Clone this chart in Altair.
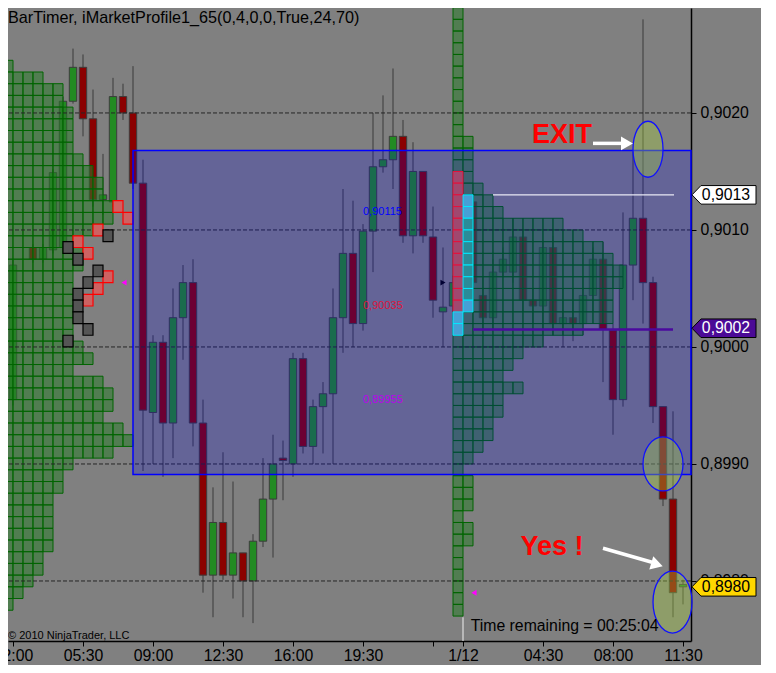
import altair as alt
import pandas as pd

TITLE = "BarTimer, iMarketProfile1_65(0,4,0,0,True,24,70)"
COPYRIGHT = "\u00a9 2010 NinjaTrader, LLC"
TIME_REMAINING = "Time remaining = 00:25:04"

# ---------------- axes ----------------
TICK_BARS = [1, 8, 15, 22, 29, 36, 43, 46, 54, 61, 68]
TICK_LABELS = ["02:00", "05:30", "09:00", "12:30", "16:00", "19:30", "", "1/12", "04:30", "08:00", "11:30"]
PRICE_TICKS = [0.8980, 0.8990, 0.9000, 0.9010, 0.9020]
X_DOMAIN = [0.5, 68.8]
Y_DOMAIN = [0.897487, 0.902897]

# ---------------- candles (30 min bars) ----------------
BAR = [1, 3, 4, 5, 6, 7, 8, 9, 10, 11, 12, 13, 14, 15, 16, 17, 18, 19, 20, 21, 22, 23, 24, 25, 26, 27,
       28, 29, 30, 31, 32, 33, 34, 35, 36, 37, 38, 39, 40, 41, 42, 43, 44, 45, 46, 47, 48, 49, 50, 51,
       52, 53, 54, 55, 56, 57, 58, 59, 60, 61, 62, 63, 64, 65, 66, 67, 68]
OPEN = [0.89955, 0.90085, 0.90075, 0.90083, 0.90085, 0.90210, 0.90239, 0.90195, 0.90126, 0.90124,
        0.90214, 0.90200, 0.90140, 0.89944, 0.90004, 0.89935, 0.90025, 0.90055, 0.89935, 0.89805,
        0.89850, 0.89805, 0.89824, 0.89800, 0.89834, 0.89870, 0.89905, 0.89900, 0.89990, 0.89915,
        0.89949, 0.89960, 0.90025, 0.90080, 0.90020, 0.90099, 0.90154, 0.90160, 0.90180, 0.90095,
        0.90150, 0.90094, 0.90030, 0.90035, 0.90055, 0.90124, 0.90044, 0.90025, 0.90064, 0.90064,
        0.90094, 0.90040, 0.90035, 0.90085, 0.90020, 0.90025, 0.90020, 0.90044, 0.90075, 0.90014,
        0.89955, 0.90070, 0.90110, 0.90055, 0.89949, 0.89870, 0.89795]
HIGH = [0.90075, 0.90088, 0.90088, 0.90152, 0.90214, 0.90255, 0.90250, 0.90220, 0.90165, 0.90230,
        0.90225, 0.90240, 0.90160, 0.90010, 0.90010, 0.90050, 0.90070, 0.90075, 0.89955, 0.89880,
        0.89910, 0.89885, 0.89824, 0.89840, 0.89905, 0.89925, 0.89920, 0.89995, 0.89995, 0.89955,
        0.89970, 0.90050, 0.90135, 0.90125, 0.90105, 0.90200, 0.90215, 0.90238, 0.90194, 0.90175,
        0.90150, 0.90120, 0.90085, 0.90061, 0.90085, 0.90130, 0.90060, 0.90075, 0.90085, 0.90110,
        0.90100, 0.90050, 0.90090, 0.90095, 0.90050, 0.90050, 0.90060, 0.90085, 0.90090, 0.90020,
        0.90115, 0.90167, 0.90280, 0.90060, 0.89949, 0.89945, 0.89801]
LOW = [0.89950, 0.90072, 0.90072, 0.90080, 0.90080, 0.90208, 0.90180, 0.90120, 0.90113, 0.90120,
       0.90194, 0.90135, 0.89894, 0.89900, 0.89889, 0.89905, 0.89989, 0.89915, 0.89790, 0.89769,
       0.89801, 0.89785, 0.89769, 0.89764, 0.89829, 0.89820, 0.89869, 0.89889, 0.89909, 0.89900,
       0.89909, 0.89900, 0.89995, 0.90000, 0.90014, 0.90064, 0.90149, 0.90135, 0.90089, 0.90080,
       0.90089, 0.90025, 0.90000, 0.90023, 0.90015, 0.90050, 0.90015, 0.90015, 0.90060, 0.90055,
       0.90030, 0.90020, 0.90000, 0.90010, 0.90000, 0.90005, 0.90010, 0.90030, 0.89970, 0.89925,
       0.89949, 0.90040, 0.90020, 0.89935, 0.89864, 0.89769, 0.89780]
CLOSE = [0.90070, 0.90075, 0.90085, 0.90149, 0.90210, 0.90239, 0.90195, 0.90126, 0.90130, 0.90214,
         0.90200, 0.90140, 0.89946, 0.90004, 0.89935, 0.90025, 0.90055, 0.89935, 0.89805, 0.89850,
         0.89805, 0.89824, 0.89800, 0.89834, 0.89870, 0.89900, 0.89903, 0.89990, 0.89915, 0.89949,
         0.89960, 0.90025, 0.90080, 0.90020, 0.90099, 0.90154, 0.90160, 0.90180, 0.90095, 0.90150,
         0.90095, 0.90040, 0.90034, 0.90055, 0.90030, 0.90055, 0.90025, 0.90064, 0.90075, 0.90094,
         0.90040, 0.90035, 0.90085, 0.90020, 0.90025, 0.90020, 0.90044, 0.90075, 0.90015, 0.89955,
         0.90070, 0.90110, 0.90055, 0.89949, 0.89870, 0.89790, 0.89797]

# ---------------- market profiles ----------------
LEFT_START = 0
LEFT_LEVELS = [0.9024, 0.9023, 0.9022, 0.9021, 0.9020, 0.9019, 0.9018, 0.9017, 0.9016, 0.9015,
               0.9014, 0.9013, 0.9012, 0.9011, 0.9010, 0.9009, 0.9008, 0.9007, 0.9006, 0.9005,
               0.9004, 0.9003, 0.9002, 0.9001, 0.9000, 0.8999, 0.8998, 0.8997, 0.8996, 0.8995,
               0.8994, 0.8993, 0.8992, 0.8991, 0.8990, 0.8989, 0.8988, 0.8987, 0.8986, 0.8985,
               0.8984, 0.8983, 0.8982, 0.8981, 0.8980, 0.8979, 0.8978]
LEFT_COUNTS = [1, 4, 6, 6, 7, 7, 7, 7, 8, 9, 10, 10, 11, 11, 9, 7, 8, 8, 7, 7, 7, 7, 7, 7, 8, 9, 7,
               10, 11, 11, 10, 12, 13, 11, 7, 6, 6, 5, 5, 5, 5, 5, 4, 4, 3, 2, 1]

RIGHT_START = 45
RIGHT_LEVELS = [0.90285, 0.90275, 0.90265, 0.90255, 0.90245, 0.90235, 0.90225, 0.90215, 0.90205,
                0.90195, 0.90185, 0.90175, 0.90165, 0.90155, 0.90145, 0.90135, 0.90125, 0.90115,
                0.90105, 0.90095, 0.90085, 0.90075, 0.90065, 0.90055, 0.90045, 0.90035, 0.90025,
                0.90015, 0.90005, 0.89995, 0.89985, 0.89975, 0.89965, 0.89955, 0.89945, 0.89935,
                0.89925, 0.89915, 0.89905, 0.89895, 0.89885, 0.89875, 0.89865, 0.89855, 0.89845,
                0.89835, 0.89825, 0.89815, 0.89805, 0.89795, 0.89785, 0.89775]
RIGHT_COUNTS = [1, 1, 1, 1, 1, 1, 1, 1, 1, 1, 1, 2, 2, 2, 2, 3, 4, 5, 11, 13, 15, 16, 17, 17, 16, 16,
                16, 13, 9, 7, 6, 5, 7, 5, 5, 4, 4, 3, 2, 1, 2, 2, 2, 1, 2, 2, 1, 1, 1, 1, 1, 1]
PIP_HALF = 0.00005

# special (red / black) TPO squares on the previous-day profile
SPECIAL_COL = [11, 12, 9, 7, 8, 10, 9, 8, 10, 6, 7, 9, 8, 7, 7, 7, 8, 6]
SPECIAL_PRICE = [0.9012, 0.9011, 0.9010, 0.9009, 0.9008, 0.9006, 0.9005, 0.9004,
                 0.90095, 0.90085, 0.90075, 0.90065, 0.90055, 0.90045, 0.90035, 0.90025, 0.90015, 0.90005]
SPECIAL_KIND = ["red"] * 8 + ["black"] * 10

# highlighted columns on today's profile
HL_COL = [45] * 12 + [46] * 10 + [45, 45]
HL_PRICE = [0.90145, 0.90135, 0.90125, 0.90115, 0.90105, 0.90095, 0.90085, 0.90075, 0.90065, 0.90055,
            0.90045, 0.90035,
            0.90125, 0.90115, 0.90105, 0.90095, 0.90085, 0.90075, 0.90065, 0.90055, 0.90045, 0.90035,
            0.90025, 0.90015]
HL_KIND = ["red"] * 12 + ["light", "light", "teal", "teal", "teal", "teal", "teal", "teal", "teal", "light",
                          "light", "light"]

# value area box and levels
VA_START = 13
VA_END = 68.8
VA_LOW = 0.89891
VA_HIGH = 0.90168
WHITE_LEVEL = 0.90130
WHITE_FROM, WHITE_TO = 49, 67.1
PURPLE_LEVEL = 0.90015
PURPLE_FROM, PURPLE_TO = 47, 67
SESSION_BAR = 46
SESSION_TOP = 0.89769

LEVEL_TEXT = ["0,90115", "0,90035", "0,89955"]
LEVEL_PRICE = [0.90115, 0.90035, 0.89955]
LEVEL_COLOR = ["#0000ff", "#dc143c", "#bb00ee"]
LEVEL_BAR = 36

# annotations
ELL_BAR = [64.5, 66.0, 66.95]
ELL_PRICE = [0.90169, 0.89900, 0.89782]
ELL_RX = [15, 20, 19.5]
ELL_RY = [28, 27, 31]

NOTE_TEXT = ["EXIT", "Yes !"]
NOTE_BAR = [55.9, 54.9]
NOTE_PRICE = [0.90181, 0.89829]

ARROW_X0 = [59.0, 60.0]
ARROW_X1 = [61.9, 64.9]
ARROW_Y0 = [0.90174, 0.89828]
ARROW_Y1 = [0.90174, 0.89816]
HEAD_X = [62.4, 65.4]
HEAD_Y = [0.90174, 0.89814]
HEAD_ANGLE = [0, 17]

MARK_BAR = [12.1, 47.1, 44.0]
MARK_PRICE = [0.90055, 0.89790, 0.90055]
MARK_SHAPE = ["triangle-left", "triangle-left", "triangle-right"]
MARK_COLOR = ["#ff00ff", "#ff00ff", "#000033"]

TAG_TEXT = ["0,9013", "0,9002", "0,8980"]
TAG_PRICE = [0.90130, 0.90016, 0.89795]
TAG_FILL = ["#ffffff", "#4b0a96", "#ffd700"]
TAG_TEXTCOLOR = ["#000000", "#ffffff", "#000000"]
TAG_BAR = 72.1
TAG_TEXT_BAR = 72.3

# ---------------- helpers ----------------
FONT = "Liberation Sans"
UP, DOWN = "#228b22", "#8b0000"
xs = alt.Scale(domain=X_DOMAIN, nice=False, zero=False)
ys = alt.Scale(domain=Y_DOMAIN, nice=False, zero=False)

x_expr = " : ".join(f"datum.value == {b} ? '{l}'" for b, l in zip(TICK_BARS, TICK_LABELS)) + " : ''"
y_expr = "replace(format(datum.value, '.4f'), '.', ',')"

x_axis = alt.Axis(values=TICK_BARS, labelExpr=x_expr, title=None, grid=False, orient="bottom",
                  domainColor="#000000", domainWidth=1.5, tickColor="#000000", tickSize=5,
                  labelColor="#000000", labelFont=FONT, labelFontSize=15.8, labelPadding=2,
                  labelFlush=False, labelOverlap=False, labelBound=False)
y_axis = alt.Axis(values=PRICE_TICKS, labelExpr=y_expr, title=None, grid=False, orient="right",
                  domainColor="#000000", domainWidth=1.5, tickColor="#000000", tickSize=5,
                  labelColor="#000000", labelFont=FONT, labelFontSize=15.8, labelPadding=4,
                  labelFlush=False, labelOverlap=False, labelBound=False)


def qx(f):
    return alt.X(f, type="quantitative", scale=xs, axis=x_axis)


def qy(f):
    return alt.Y(f, type="quantitative", scale=ys, axis=y_axis)


def squares(levels, counts, start):
    rows = []
    for p, c in zip(levels, counts):
        for j in range(start, start + c):
            rows.append({"c0": j, "c1": j + 1, "lo": p - PIP_HALF, "hi": p + PIP_HALF})
    return pd.DataFrame(rows)


candles = pd.DataFrame({"bar": BAR, "open": OPEN, "high": HIGH, "low": LOW, "close": CLOSE})

wicks = alt.Chart(candles).mark_rule(color="#3a3a3a", strokeWidth=1).encode(
    x=qx("bar"), y=qy("low"), y2="high:Q")
bodies = alt.Chart(candles).transform_calculate(
    x0="datum.bar - 0.37", x1="datum.bar + 0.37"
).mark_rect(stroke="#3c3c3c", strokeWidth=1).encode(
    x=qx("x0"), x2="x1:Q", y=qy("open"), y2="close:Q",
    fill=alt.condition("datum.close >= datum.open", alt.value(UP), alt.value(DOWN)),
)

left_prof = alt.Chart(squares(LEFT_LEVELS, LEFT_COUNTS, LEFT_START)).mark_rect(
    fill="#2a7a2a", fillOpacity=0.55, stroke="#006400", strokeWidth=1
).encode(x=qx("c0"), x2="c1:Q", y=qy("lo"), y2="hi:Q")
right_prof = alt.Chart(squares(RIGHT_LEVELS, RIGHT_COUNTS, RIGHT_START)).mark_rect(
    fill="#2a7a2a", fillOpacity=0.55, stroke="#006400", strokeWidth=1
).encode(x=qx("c0"), x2="c1:Q", y=qy("lo"), y2="hi:Q")

grid = alt.Chart(pd.DataFrame({"p": PRICE_TICKS})).mark_rule(
    color="#262626", strokeDash=[4, 2], strokeWidth=1
).encode(y=qy("p"))

spec_df = pd.DataFrame({"col": SPECIAL_COL, "price": SPECIAL_PRICE, "kind": SPECIAL_KIND})
spec_df["fill"] = spec_df["kind"].map({"red": "#cd6262", "black": "#555555"})
spec_df["stroke"] = spec_df["kind"].map({"red": "#ff0000", "black": "#000000"})
special = alt.Chart(spec_df).transform_calculate(
    c1="datum.col + 1", lo=f"datum.price - {PIP_HALF}", hi=f"datum.price + {PIP_HALF}"
).mark_rect(strokeWidth=1.2).encode(
    x=qx("col"), x2="c1:Q", y=qy("lo"), y2="hi:Q",
    fill=alt.Fill("fill:N", scale=None), stroke=alt.Stroke("stroke:N", scale=None),
)

va_df = pd.DataFrame({"b0": [VA_START], "b1": [VA_END], "lo": [VA_LOW], "hi": [VA_HIGH]})
overlay = alt.Chart(va_df).mark_rect(fill="#0000e6", fillOpacity=0.22).encode(
    x=qx("b0"), x2="b1:Q", y=qy("lo"), y2="hi:Q")
va_border = alt.Chart(va_df).mark_rect(fillOpacity=0, stroke="#0000ff", strokeWidth=1.5).encode(
    x=qx("b0"), x2="b1:Q", y=qy("lo"), y2="hi:Q")

hl_df = pd.DataFrame({"col": HL_COL, "price": HL_PRICE, "kind": HL_KIND})
hl_df["fill"] = hl_df["kind"].map({"red": "#a0486f", "light": "#46a0d6", "teal": "#2a8c98"})
hl_df["stroke"] = hl_df["kind"].map({"red": "#e8103c", "light": "#00e8ff", "teal": "#00e8ff"})
highlight = alt.Chart(hl_df).transform_calculate(
    c1="datum.col + 1", lo=f"datum.price - {PIP_HALF}", hi=f"datum.price + {PIP_HALF}"
).mark_rect(strokeWidth=1).encode(
    x=qx("col"), x2="c1:Q", y=qy("lo"), y2="hi:Q",
    fill=alt.Fill("fill:N", scale=None), stroke=alt.Stroke("stroke:N", scale=None),
)

white_line = alt.Chart(pd.DataFrame({"a": [WHITE_FROM], "b": [WHITE_TO], "p": [WHITE_LEVEL]})).mark_rule(
    color="#e8e8f4", strokeWidth=1.3).encode(x=qx("a"), x2="b:Q", y=qy("p"))
purple_line = alt.Chart(pd.DataFrame({"a": [PURPLE_FROM], "b": [PURPLE_TO], "p": [PURPLE_LEVEL]})).mark_rule(
    color="#4b0a9e", strokeWidth=2.5).encode(x=qx("a"), x2="b:Q", y=qy("p"))
session_line = alt.Chart(pd.DataFrame({"a": [SESSION_BAR], "p": [SESSION_TOP], "q": [Y_DOMAIN[0]]})).mark_rule(
    color="#f0f0f0", strokeWidth=1).encode(x=qx("a"), y=qy("p"), y2="q:Q")

level_text = alt.Chart(pd.DataFrame({"t": LEVEL_TEXT, "p": LEVEL_PRICE, "c": LEVEL_COLOR,
                                     "b": [LEVEL_BAR] * 3})).mark_text(
    align="left", baseline="middle", font=FONT, fontSize=11).encode(
    x=qx("b"), y=qy("p"), text="t:N", color=alt.Color("c:N", scale=None))

ell_df = pd.DataFrame({"b": ELL_BAR, "p": ELL_PRICE, "rx": ELL_RX, "ry": ELL_RY})
ell_df["shape"] = [f"M {-rx / ry:.3f},0 A {rx / ry:.3f},1 0 1,0 {rx / ry:.3f},0 A {rx / ry:.3f},1 0 1,0 {-rx / ry:.3f},0 Z"
                   for rx, ry in zip(ELL_RX, ELL_RY)]
ell_df["size"] = [(2 * ry) ** 2 for ry in ELL_RY]
ellipses = alt.Chart(ell_df).mark_point(filled=True, fill="#a6d040", fillOpacity=0.36, stroke="#1010ff",
                                        strokeWidth=1.3, strokeOpacity=1, opacity=1).encode(
    x=qx("b"), y=qy("p"), shape=alt.Shape("shape:N", scale=None), size=alt.Size("size:Q", scale=None))

notes = alt.Chart(pd.DataFrame({"t": NOTE_TEXT, "b": NOTE_BAR, "p": NOTE_PRICE})).mark_text(
    font=FONT, fontSize=27, fontWeight="bold", color="#ff0000", align="center", baseline="middle").encode(
    x=qx("b"), y=qy("p"), text="t:N")

arrows = alt.Chart(pd.DataFrame({"a": ARROW_X0, "b": ARROW_X1, "p": ARROW_Y0, "q": ARROW_Y1})).mark_rule(
    color="#ffffff", strokeWidth=3.5).encode(x=qx("a"), x2="b:Q", y=qy("p"), y2="q:Q")
heads = alt.Chart(pd.DataFrame({"b": HEAD_X, "p": HEAD_Y, "ang": HEAD_ANGLE})).mark_point(
    shape="triangle-right", filled=True, fill="#ffffff", size=190, opacity=1, strokeWidth=0).encode(
    x=qx("b"), y=qy("p"), angle=alt.Angle("ang:Q", scale=None))

markers = alt.Chart(pd.DataFrame({"b": MARK_BAR, "p": MARK_PRICE, "s": MARK_SHAPE, "c": MARK_COLOR})).mark_point(
    filled=True, size=35, opacity=1).encode(
    x=qx("b"), y=qy("p"), shape=alt.Shape("s:N", scale=None), color=alt.Color("c:N", scale=None))

TAG_PATH = "M -1,0 L -0.72,-0.29 L 1,-0.29 L 1,0.29 L -0.72,0.29 Z"
tag_df = pd.DataFrame({"t": TAG_TEXT, "p": TAG_PRICE, "f": TAG_FILL, "tc": TAG_TEXTCOLOR,
                       "b": [TAG_BAR] * 3, "tb": [TAG_TEXT_BAR] * 3})
tags = alt.Chart(tag_df).mark_point(shape=TAG_PATH, size=4096, filled=True, stroke="#000000",
                                    strokeWidth=1, opacity=1).encode(
    x=qx("b"), y=qy("p"), fill=alt.Fill("f:N", scale=None))
tag_text = alt.Chart(tag_df).mark_text(font=FONT, fontSize=15.8, align="center", baseline="middle").encode(
    x=qx("tb"), y=qy("p"), text="t:N", color=alt.Color("tc:N", scale=None))

title_t = alt.Chart(pd.DataFrame({"t": [TITLE]})).mark_text(
    font=FONT, fontSize=16.2, align="left", baseline="alphabetic", color="#000000").encode(
    x=alt.value(0), y=alt.value(15), text="t:N")
copy_t = alt.Chart(pd.DataFrame({"t": [COPYRIGHT]})).mark_text(
    font=FONT, fontSize=11, align="left", baseline="alphabetic", color="#000000").encode(
    x=alt.value(0), y=alt.value(631), text="t:N")
time_t = alt.Chart(pd.DataFrame({"t": [TIME_REMAINING]})).mark_text(
    font=FONT, fontSize=15.8, align="left", baseline="alphabetic", color="#000000").encode(
    x=alt.value(462.7), y=alt.value(622.7), text="t:N")

chart = alt.layer(
    wicks, bodies, left_prof, right_prof, grid, special, overlay, highlight, va_border,
    white_line, purple_line, session_line, level_text, ellipses, arrows, heads, notes,
    markers, tags, tag_text, title_t, copy_t, time_t,
).properties(
    width=683, height=633,
    autosize=alt.AutoSizeParams(type="none"),
    padding={"left": 0, "top": 0, "right": 70, "bottom": 24},
    background="#808080",
).configure_view(fill="#808080", strokeWidth=0)

chart.save("out.html", embed_options={"renderer": "svg", "actions": False})
